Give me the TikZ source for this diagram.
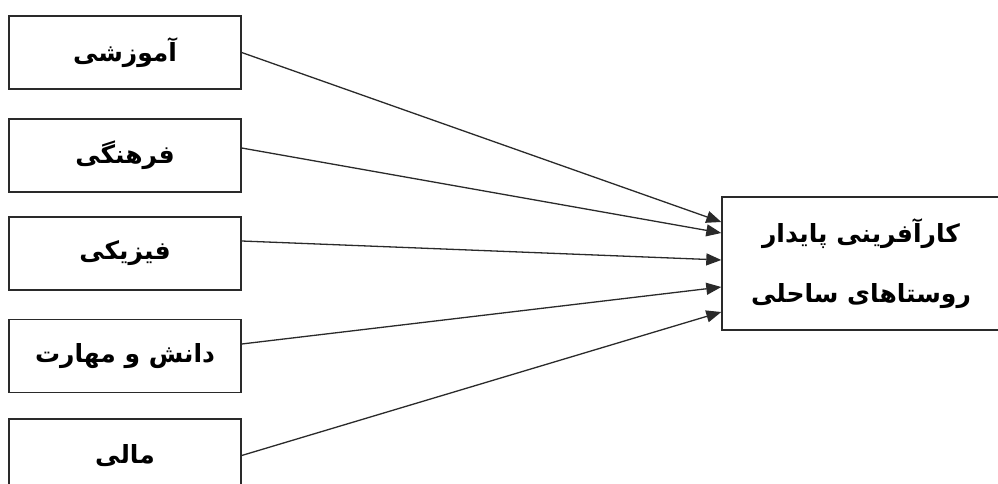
\documentclass[tikz,border=0pt]{standalone}
\usepackage{fontspec}
\usetikzlibrary{arrows.meta,calc}
\TeXXeTstate=1
\newfontfamily\fa[Script=Arabic]{DejaVu Sans}
\definecolor{edge}{HTML}{2A2A2A}
\tikzset{
  srcbox/.style={draw=edge, line width=1.4pt, minimum width=232pt, minimum height=73pt, inner sep=0pt, font=\fa\bfseries\fontsize{25}{30}\selectfont},
  tgtbox/.style={draw=edge, line width=1.4pt, minimum width=278pt, minimum height=133pt, inner sep=0pt, align=center, font=\fa\bfseries\fontsize{25}{60}\selectfont},
  link/.style={draw=edge, line width=1.3pt, -{Triangle[length=15pt,width=12pt]}}
}
\begin{document}
\begin{tikzpicture}[x=1pt,y=1pt]
\useasboundingbox (0,0) rectangle (998,-484);
\node[srcbox] (b1) at (125,-52.5) {\beginR آموزشی\endR};
\node[srcbox] (b2) at (125,-155.5) {\beginR فرهنگی\endR};
\node[srcbox] (b3) at (125,-253.5) {\beginR فیزیکی\endR};
\node[srcbox] (b4) at (125,-356) {\beginR دانش و مهارت\endR};
\node[srcbox] (b5) at (125,-455.5) {\beginR مالی\endR};
\node[tgtbox] (t) at (861,-263.5) {\beginR کارآفرینی پایدار\endR\\\beginR روستاهای ساحلی\endR};
\draw[link] (b1.east) -- ([yshift=41.5pt]t.west);
\draw[link] ([yshift=7.5pt]b2.east) -- ([yshift=30.5pt]t.west);
\draw[link] ([yshift=12.5pt]b3.east) -- ([yshift=3.5pt]t.west);
\draw[link] ([yshift=12pt]b4.east) -- ([yshift=-23.5pt]t.west);
\draw[link] (b5.east) -- ([yshift=-48.5pt]t.west);
\end{tikzpicture}
\end{document}
